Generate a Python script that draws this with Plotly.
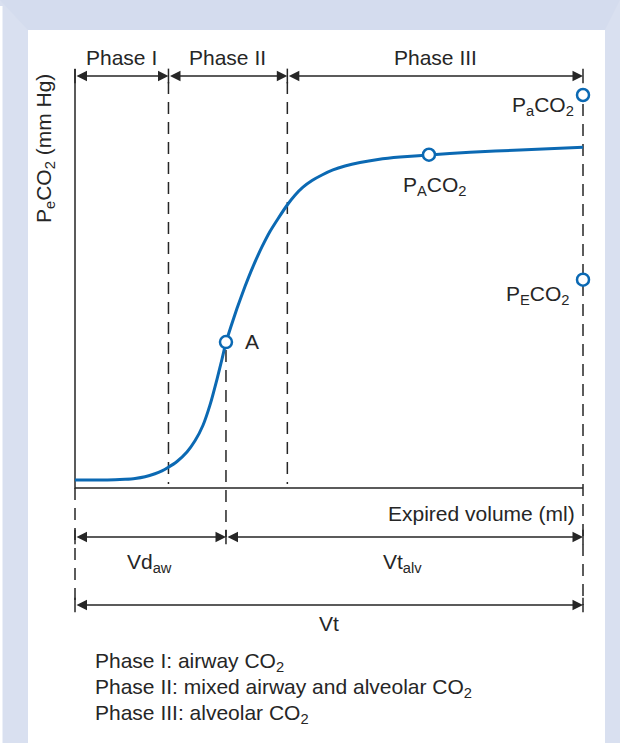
import plotly.graph_objects as go

# ---------------- data ----------------
volume_ml = [0, 24.6, 39.4, 49.2, 59.1, 68.9, 78.7, 85.6, 91.5, 100.4, 110.2,
             118.1, 126.0, 132.9, 139.8, 144.7, 148.6, 153.5, 159.4, 167.3,
             175.2, 184.1, 191.9, 199.8, 208.7, 216.5, 224.4, 233.3, 243.1,
             253.9, 265.7, 280.5, 298.2, 319.9, 348.4, 388.8, 438.0, 500.0]
pco2_mmhg = [0.81, 0.81, 0.83, 0.88, 0.97, 1.14, 1.45, 1.75, 2.09, 2.70, 3.66,
             4.80, 6.39, 8.46, 11.09, 13.13, 14.81, 16.44, 18.27, 20.51,
             22.54, 24.56, 26.11, 27.41, 28.78, 29.80, 30.62, 31.30, 31.86,
             32.37, 32.77, 33.13, 33.44, 33.69, 33.90, 34.17, 34.41, 34.68]

phase_names = ["Phase I", "Phase II", "Phase III"]
phase_bounds_ml = [0, 92, 209, 500]

point_names = ["A", "P<sub>A</sub>CO<sub>2</sub>", "P<sub>a</sub>CO<sub>2</sub>", "P<sub>E</sub>CO<sub>2</sub>"]
point_volume_ml = [148.6, 348.4, 500, 500]
point_pco2 = [14.85, 33.92, 40.0, 21.2]

dead_space_ml = 148.6    # Vd_aw (point A)
tidal_volume_ml = 500    # Vt

legend_lines = ["Phase I: airway CO<sub>2</sub>",
                "Phase II: mixed airway and alveolar CO<sub>2</sub>",
                "Phase III: alveolar CO<sub>2</sub>"]

# ---------------- layout helpers ----------------
W, H = 620, 743
X0PX, XSCALE = 75, 1.016     # px per ml
Y0PX, YSCALE = 488, 9.825    # px per mmHg


def dx(px):
    return (px - X0PX) / XSCALE


def dy(py):
    return (Y0PX - py) / YSCALE


BLUE = "#0b69b3"
INK = "#262626"
FONT = "Liberation Sans, Arial, Helvetica, sans-serif"
FS = 21

ARROW_PHASE_Y = dy(76)
ARROW_VD_Y = dy(537)
ARROW_VT_Y = dy(605)
TOP_AXIS = dy(69)

fig = go.Figure()

# dashed guide lines
gx, gy = [], []
for b in phase_bounds_ml[1:3]:
    gx += [b, b, None]
    gy += [dy(82), dy(484), None]
gx += [dead_space_ml, dead_space_ml, None]
gy += [dy(350), ARROW_VD_Y, None]
gx += [tidal_volume_ml, tidal_volume_ml, None]
gy += [dy(104), ARROW_VT_Y, None]
gx += [0, 0, None]
gy += [0, ARROW_VT_Y, None]
fig.add_trace(go.Scatter(x=gx, y=gy, mode="lines",
                         line=dict(color=INK, width=1.5, dash="12px,8px"),
                         hoverinfo="skip", showlegend=False))

# solid end ticks of the dimension arrows
tx, ty = [], []
for b in phase_bounds_ml:
    tx += [b, b, None]
    ty += [ARROW_PHASE_Y - 0.75, ARROW_PHASE_Y + 0.75, None]
for b in [0, dead_space_ml, tidal_volume_ml]:
    tx += [b, b, None]
    ty += [ARROW_VD_Y - 0.75, ARROW_VD_Y + 0.75, None]
for b in [0, tidal_volume_ml]:
    tx += [b, b, None]
    ty += [ARROW_VT_Y - 0.75, ARROW_VT_Y + 0.75, None]
fig.add_trace(go.Scatter(x=tx, y=ty, mode="lines",
                         line=dict(color=INK, width=1.5),
                         hoverinfo="skip", showlegend=False))

# axes lines
fig.add_trace(go.Scatter(x=[0, 0, tidal_volume_ml], y=[TOP_AXIS, 0, 0], mode="lines",
                         line=dict(color=INK, width=1.5),
                         hoverinfo="skip", showlegend=False))

# capnogram curve
fig.add_trace(go.Scatter(x=volume_ml, y=pco2_mmhg, mode="lines",
                         line=dict(color=BLUE, width=3, shape="spline", smoothing=0.5),
                         hoverinfo="skip", showlegend=False))

# marked points
fig.add_trace(go.Scatter(x=point_volume_ml, y=point_pco2, mode="markers",
                         marker=dict(symbol="circle", size=12, color="white",
                                     line=dict(color=BLUE, width=2.5)),
                         hoverinfo="skip", showlegend=False))

annotations = []


def arrow(x0, x1, y):
    annotations.append(dict(x=x1, y=y, ax=x0, ay=y, xref="x", yref="y",
                            axref="x", ayref="y", text="", showarrow=True,
                            arrowhead=2, arrowside="end+start", arrowsize=1.4,
                            arrowwidth=1.5, arrowcolor=INK, standoff=0,
                            startstandoff=0))


for i in range(3):
    arrow(phase_bounds_ml[i], phase_bounds_ml[i + 1], ARROW_PHASE_Y)
arrow(0, dead_space_ml, ARROW_VD_Y)
arrow(dead_space_ml, tidal_volume_ml, ARROW_VD_Y)
arrow(0, tidal_volume_ml, ARROW_VT_Y)


def label(text, x, y, xanchor="center", yanchor="middle", angle=0):
    annotations.append(dict(text=text, x=x, y=y, xref="x", yref="y",
                            xanchor=xanchor, yanchor=yanchor, showarrow=False,
                            textangle=angle,
                            font=dict(family=FONT, size=FS, color=INK)))


# phase labels
for i, name in enumerate(phase_names):
    label(name, (phase_bounds_ml[i] + phase_bounds_ml[i + 1]) / 2, dy(57))

# point labels
label(point_names[0], dx(243), dy(341), xanchor="left")
label(point_names[1], dx(434), dy(186))
label(point_names[2], dx(576), dy(106), xanchor="right")
label(point_names[3], dx(571), dy(295), xanchor="right")

# axis titles
label("Expired volume (ml)", dx(577), dy(513), xanchor="right")
label("P<sub>e</sub>CO<sub>2</sub> (mm Hg)", dx(45), dy(149), angle=-90)

# dimension labels
label("Vd<sub>aw</sub>", dx(149), dy(563))
label("Vt<sub>alv</sub>", dx(402), dy(563))
label("Vt", (0 + tidal_volume_ml) / 2, dy(623))

# explanatory lines
for i, t in enumerate(legend_lines):
    label(t, dx(93), dy(662 + 26 * i), xanchor="left")


# frame (bevelled border)
def px_path(points):
    return "M " + " L ".join(f"{x / W:.5f},{1 - y / H:.5f}" for x, y in points) + " Z"


SIDE = "#d9e0f0"
shapes = [
    dict(type="path", xref="paper", yref="paper", layer="below",
         path=px_path([(0, 0), (28, 30), (28, H), (0, H)]),
         fillcolor=SIDE, line=dict(width=0)),
    dict(type="path", xref="paper", yref="paper", layer="below",
         path=px_path([(W, 0), (605, 30), (605, H), (W, H)]),
         fillcolor=SIDE, line=dict(width=0)),
    dict(type="rect", xref="paper", yref="paper", layer="below",
         x0=0, x1=2.5 / W, y0=0, y1=1 - 6 / H,
         fillcolor="white", line=dict(width=0)),
    dict(type="rect", xref="paper", yref="paper", layer="below",
         x0=28 / W, x1=605 / W, y0=0, y1=1 - 30 / H,
         fillcolor="white", line=dict(width=0)),
]

fig.update_layout(
    width=W, height=H,
    margin=dict(l=0, r=0, t=0, b=0),
    paper_bgcolor="#d4dcee",
    plot_bgcolor="rgba(0,0,0,0)",
    xaxis=dict(range=[dx(0), dx(W)], visible=False, fixedrange=True),
    yaxis=dict(range=[dy(H), dy(0)], visible=False, fixedrange=True),
    shapes=shapes,
    annotations=annotations,
    showlegend=False,
)

fig.write_html("out.html", config={"displayModeBar": False},
               post_script="document.body.style.margin='0px';")
